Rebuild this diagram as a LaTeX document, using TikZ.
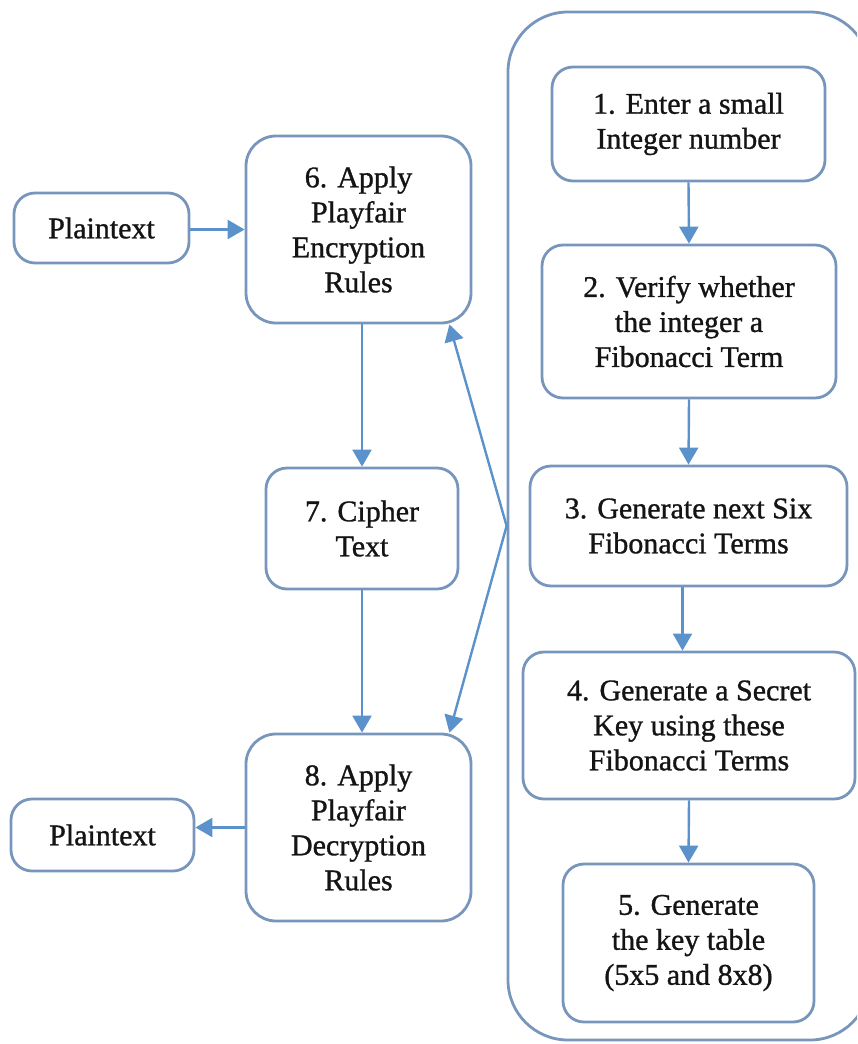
\documentclass[tikz,border=0pt]{standalone}
\usepackage{fontspec}
\setmainfont{Liberation Serif}
\newfontfamily\boxfont[FakeBold=1.0]{Liberation Serif}
\usetikzlibrary{arrows.meta}
\definecolor{edgeblue}{HTML}{7896BC}
\definecolor{arrowblue}{HTML}{5B92CC}
\begin{document}
\begin{tikzpicture}[x=1pt,y=-1pt,
  stepbox/.style={draw=edgeblue, line width=2.8pt, rounded corners=21pt,
    align=center, font=\boxfont\fontsize{30}{35}\selectfont, text=black!92,
    inner sep=0pt, fill=white},
  bigbox/.style={stepbox, rounded corners=30pt},
  frame/.style={draw=edgeblue, line width=2.8pt, rounded corners=60pt, inner sep=0pt},
  flow/.style={draw=arrowblue, line width=2.4pt,
    -{Triangle[length=17pt,width=19pt]}}]
\useasboundingbox (0,0) rectangle (857,1044);
\clip (0,0) rectangle (857,1044);

% key-generation group (its right side lies beyond the page edge)
\node[frame, minimum width=362pt, minimum height=1028pt] (group) at (689,526) {};

% key-generation steps
\node[stepbox, minimum width=273pt, minimum height=114pt] (b1) at (688.5,124)
  {1. Enter a small\\Integer number};
\node[stepbox, minimum width=294pt, minimum height=153pt] (b2) at (689,321.5)
  {2. Verify whether\\the integer a\\Fibonacci Term};
\node[stepbox, minimum width=317pt, minimum height=120pt] (b3) at (688.5,526)
  {3. Generate next Six\\Fibonacci Terms};
\node[stepbox, minimum width=332pt, minimum height=147pt] (b4) at (689,725.5)
  {4. Generate a Secret\\Key using these\\Fibonacci Terms};
\node[stepbox, minimum width=251pt, minimum height=158pt] (b5) at (688.5,943)
  {5. Generate\\the key table\\(5x5 and 8x8)};

% encryption / decryption steps
\node[bigbox, minimum width=225pt, minimum height=187pt] (b6) at (358.5,229.5)
  {6. Apply\\Playfair\\Encryption\\Rules};
\node[stepbox, minimum width=192pt, minimum height=121pt] (b7) at (362,528.5)
  {7. Cipher\\Text};
\node[bigbox, minimum width=225pt, minimum height=187pt] (b8) at (358.5,827.5)
  {8. Apply\\Playfair\\Decryption\\Rules};

% plaintext in and out
\node[stepbox, minimum width=175pt, minimum height=70pt] (p1) at (101.5,228)
  {Plaintext};
\node[stepbox, minimum width=183pt, minimum height=72pt] (p2) at (102.5,835)
  {Plaintext};

% connectors
\draw[flow] (b1.south) -- (b2.north);
\draw[flow] (b2.south) -- (b3.north);
\draw[flow] ([xshift=-6pt]b3.south) -- ([xshift=-6pt]b3.south |- b4.north);
\draw[flow] (b4.south) -- (b5.north);

\draw[flow] (p1.east |- b6.west) -- (b6.west);
\draw[flow] (b6.south -| b7.north) -- (b7.north);
\draw[flow] (b7.south) -- (b7.south |- b8.north);
\draw[flow] (b8.west) -- (p2.east |- b8.west);

\draw[flow] (group.west) -- ([xshift=-23pt]b6.south east);
\draw[flow] (group.west) -- ([xshift=-23pt]b8.north east);
\end{tikzpicture}
\end{document}
